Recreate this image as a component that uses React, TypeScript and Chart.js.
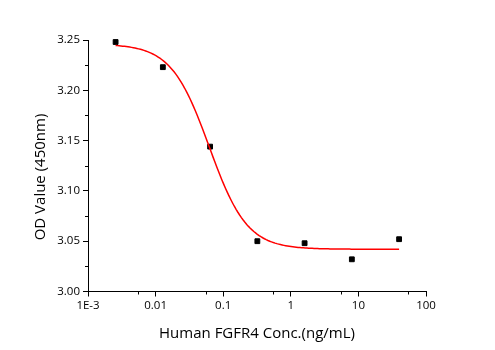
import React, { useEffect, useRef } from "react";
import { Chart, registerables } from "chart.js";

Chart.register(...registerables);

// Measured concentrations (ng/mL) and OD readings at 450 nm
const concentrations = [0.00256, 0.0128, 0.064, 0.32, 1.6, 8, 40];
const odValues = [3.248, 3.223, 3.144, 3.05, 3.048, 3.032, 3.052];

// Four-parameter logistic fit of the readings
const fitTop = 3.246;
const fitBottom = 3.042;
const fitX0 = 0.062;
const fitPower = 1.55;
const fitSteps = 160;

// Axis ticks
const xMajorTicks = [0.001, 0.01, 0.1, 1, 10, 100];
const xTickLabels = ["1E-3", "0.01", "0.1", "1", "10", "100"];
const xMinorTicks = [0.0055, 0.055, 0.55, 5.5, 55];
const yMinorTicks = [3.025, 3.075, 3.125, 3.175, 3.225];

const xTitle = "Human FGFR4 Conc.(ng/mL)";
const yTitle = "OD Value (450nm)";

const FONT = "'Open Sans', 'DejaVu Sans', sans-serif";

function logistic(x: number): number {
  return fitBottom + (fitTop - fitBottom) / (1 + Math.pow(x / fitX0, fitPower));
}

function buildFitCurve() {
  const lo = Math.log10(concentrations[0]);
  const hi = Math.log10(concentrations[concentrations.length - 1]);
  const pts: { x: number; y: number }[] = [];
  for (let i = 0; i <= fitSteps; i++) {
    const x = Math.pow(10, lo + ((hi - lo) * i) / fitSteps);
    pts.push({ x, y: logistic(x) });
  }
  return pts;
}

// Draws the short minor ticks and the two axis titles
const axisDecor = {
  id: "axisDecor",
  afterDraw(chart: any) {
    const { ctx, chartArea, scales } = chart;
    const xs = scales.x;
    const ys = scales.y;
    ctx.save();
    ctx.strokeStyle = "#000";
    ctx.lineWidth = 1;
    ctx.beginPath();
    xMinorTicks.forEach((v) => {
      const px = Math.round(xs.getPixelForValue(v)) + 0.5;
      ctx.moveTo(px, chartArea.bottom);
      ctx.lineTo(px, chartArea.bottom + 3);
    });
    yMinorTicks.forEach((v) => {
      const py = Math.round(ys.getPixelForValue(v)) + 0.5;
      ctx.moveTo(chartArea.left, py);
      ctx.lineTo(chartArea.left - 3, py);
    });
    ctx.stroke();

    ctx.fillStyle = "#000";
    ctx.font = `15px ${FONT}`;
    ctx.textAlign = "center";
    ctx.textBaseline = "middle";
    ctx.fillText(xTitle, (chartArea.left + chartArea.right) / 2, 334);
    ctx.translate(41, 177);
    ctx.rotate(-Math.PI / 2);
    ctx.fillText(yTitle, 0, 0);
    ctx.restore();
  },
};

export default function App() {
  const canvasRef = useRef<HTMLCanvasElement | null>(null);

  useEffect(() => {
    if (!canvasRef.current) return;
    const chart = new Chart(canvasRef.current, {
      type: "scatter",
      data: {
        datasets: [
          {
            label: "Fit",
            data: buildFitCurve(),
            showLine: true,
            borderColor: "#ff0000",
            borderWidth: 1.5,
            pointRadius: 0,
            pointHoverRadius: 0,
            fill: false,
          },
          {
            label: "OD",
            data: concentrations.map((x, i) => ({ x, y: odValues[i] })),
            pointStyle: "rect",
            pointRadius: 3.4,
            pointBorderWidth: 1,
            backgroundColor: "#000",
            borderColor: "#000",
          },
        ],
      },
      options: {
        responsive: false,
        animation: false,
        clip: false,
        layout: { padding: { top: 40, right: 69, bottom: 0, left: 0 } },
        plugins: {
          legend: { display: false },
          tooltip: { enabled: false },
          title: { display: false },
        },
        scales: {
          x: {
            type: "logarithmic",
            min: 0.001,
            max: 100,
            afterBuildTicks: (scale: any) => {
              scale.ticks = xMajorTicks.map((v) => ({ value: v }));
            },
            afterFit: (scale: any) => {
              scale.height = 58.5;
            },
            ticks: {
              autoSkip: false,
              maxRotation: 0,
              padding: 2,
              color: "#000",
              font: { family: FONT, size: 11.5 },
              callback: (value: any) => {
                const idx = xMajorTicks.findIndex((t) => Math.abs(t - Number(value)) < t * 1e-6);
                return idx >= 0 ? xTickLabels[idx] : "";
              },
            },
            grid: {
              drawOnChartArea: false,
              drawTicks: true,
              tickLength: 5,
              tickColor: "#000",
            },
            border: { display: true, color: "#000", width: 1 },
          },
          y: {
            type: "linear",
            min: 3.0,
            max: 3.25,
            afterFit: (scale: any) => {
              scale.width = 88;
            },
            ticks: {
              stepSize: 0.05,
              padding: 3,
              color: "#000",
              font: { family: FONT, size: 11.5 },
              callback: (value: any) => Number(value).toFixed(2),
            },
            grid: {
              drawOnChartArea: false,
              drawTicks: true,
              tickLength: 5,
              tickColor: "#000",
            },
            border: { display: true, color: "#000", width: 1 },
          },
        },
      },
      plugins: [axisDecor],
    });
    return () => chart.destroy();
  }, []);

  return (
    <div style={{ position: "absolute", left: 0, top: 0, width: 495, height: 350, background: "#fff" }}>
      <canvas ref={canvasRef} width={495} height={350} />
    </div>
  );
}
